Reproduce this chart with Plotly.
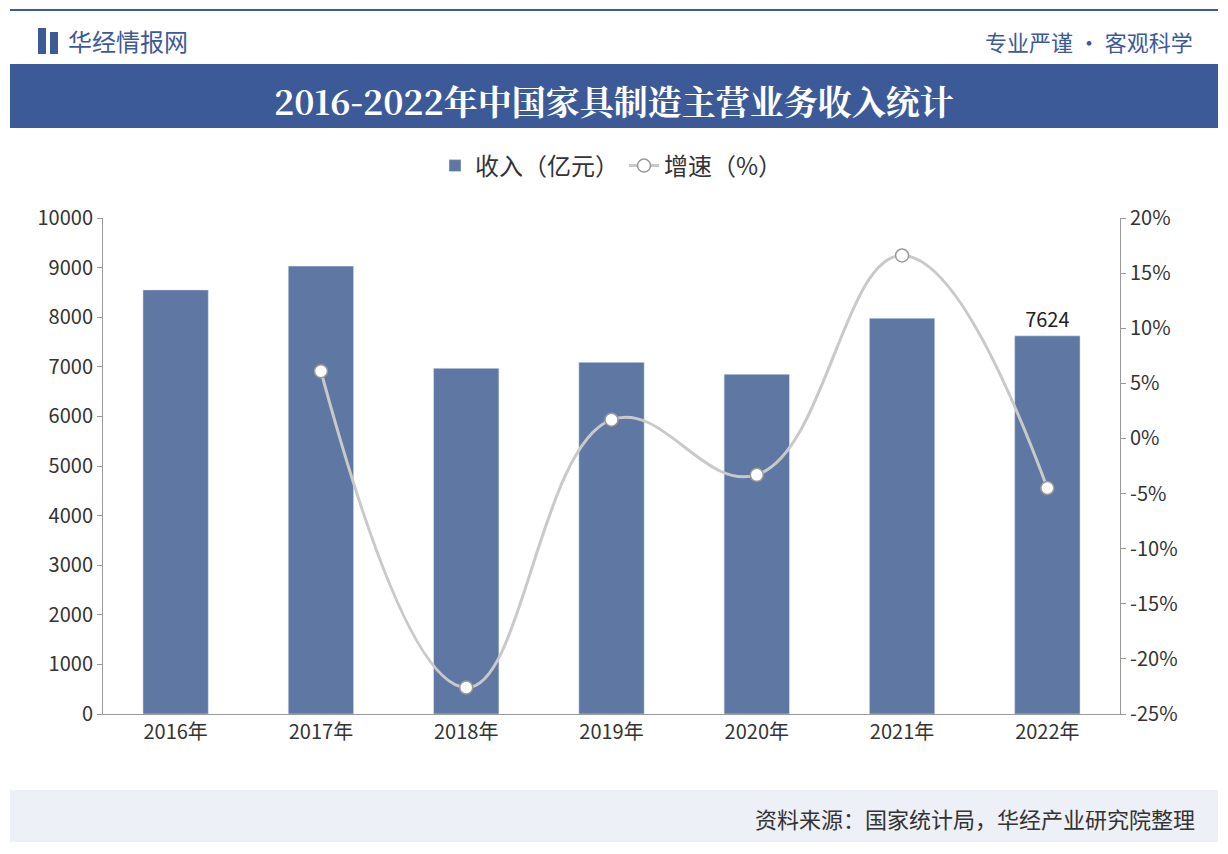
import plotly.graph_objects as go

years = ["2016年","2017年","2018年","2019年","2020年","2021年","2022年"]
revenue = [8550, 9030, 6970, 7090, 6850, 7980, 7624]
growth_years = ["2017年","2018年","2019年","2020年","2021年","2022年"]
growth = [6.1, -22.6, 1.7, -3.3, 16.6, -4.5]
left_ticks = list(range(0, 10001, 1000))
right_ticks = list(range(-25, 21, 5))

font = "Noto Sans CJK SC"
fig = go.Figure()
fig.add_trace(go.Bar(x=years, y=revenue, name="收入（亿元）", marker_color="#5f77a3", width=0.45,
                     text=[""]*6+["7624"], textposition="outside", textfont=dict(size=20, color="#222")))
fig.add_trace(go.Scatter(x=growth_years, y=growth, name="增速（%）", yaxis="y2", mode="lines+markers",
                         line=dict(color="#c9c9c9", width=3, shape="spline", smoothing=1.2),
                         marker=dict(size=13, color="white", line=dict(color="#999", width=1.5))))
fig.update_layout(
    width=1228, height=854, margin=dict(l=95, r=116, t=210, b=148, autoexpand=False),
    paper_bgcolor="white", plot_bgcolor="white",
    font=dict(family=font, size=20, color="#333"),
    xaxis=dict(showline=True, linecolor="#999", ticks="", tickfont=dict(size=20)),
    yaxis=dict(range=[0, 10000], tickvals=left_ticks, ticktext=[str(v) for v in left_ticks],
               showgrid=False, showline=True, linecolor="#999",
               ticks="outside", ticklen=5, tickcolor="#999", tickfont=dict(size=20)),
    yaxis2=dict(range=[-25, 20], tickvals=right_ticks, ticktext=[f"{v}%" for v in right_ticks],
                overlaying="y", side="right",
                showgrid=False, showline=True, linecolor="#999", ticks="outside", ticklen=5, tickcolor="#999",
                tickfont=dict(size=20)),
    legend=dict(orientation="h", x=0.5, xanchor="center", y=(714-166)/496, yanchor="middle",
                font=dict(size=24), bgcolor="rgba(0,0,0,0)"),
)
pw, ph = 1017, 496
def px(x): return (x-103)/pw
def py(y): return (714-y)/ph
fig.add_shape(type="line", xref="paper", yref="paper", x0=px(10), x1=px(1218), y0=py(10), y1=py(10),
              line=dict(color="#3d5a98", width=2))
fig.add_shape(type="rect", xref="paper", yref="paper", x0=px(10), x1=px(1218), y0=py(128), y1=py(64),
              fillcolor="#3d5a98", line_width=0)
fig.add_shape(type="rect", xref="paper", yref="paper", x0=px(10), x1=px(1218), y0=py(842), y1=py(790),
              fillcolor="#edf0f6", line_width=0, layer="below")
fig.add_shape(type="rect", xref="paper", yref="paper", x0=px(38), x1=px(46), y0=py(54), y1=py(28),
              fillcolor="#3d5a98", line_width=0)
fig.add_shape(type="rect", xref="paper", yref="paper", x0=px(50), x1=px(58), y0=py(54), y1=py(32),
              fillcolor="#3d5a98", line_width=0)
fig.add_annotation(xref="paper", yref="paper", x=px(66), y=py(41), text="华经情报网", showarrow=False,
                   xanchor="left", yanchor="middle", font=dict(size=24, color="#3d5a98"))
fig.add_annotation(xref="paper", yref="paper", x=px(1195), y=py(41), text="专业严谨 • 客观科学", showarrow=False,
                   xanchor="right", yanchor="middle", font=dict(size=22, color="#3d5a98"))
fig.add_annotation(xref="paper", yref="paper", x=px(614), y=py(100),
                   text="<b>2016-2022年中国家具制造主营业务收入统计</b>", showarrow=False,
                   xanchor="center", yanchor="middle",
                   font=dict(size=34, color="white", family="Noto Serif CJK SC, Noto Sans CJK SC"))
fig.add_annotation(xref="paper", yref="paper", x=px(1197), y=py(818), text="资料来源：国家统计局，华经产业研究院整理",
                   showarrow=False, xanchor="right", yanchor="middle", font=dict(size=22, color="#333"))
fig.write_html("out.html")
